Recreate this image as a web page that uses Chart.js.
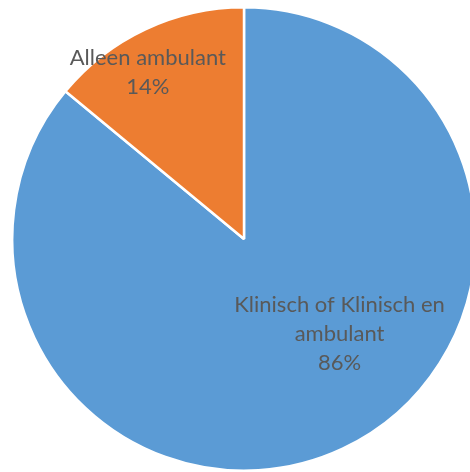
<!DOCTYPE html>
<html>
<head>
<meta charset="utf-8">
<script src="https://cdn.jsdelivr.net/npm/chart.js@4/dist/chart.umd.min.js"></script>
<style>
  html, body { margin: 0; padding: 0; width: 470px; height: 472px; overflow: hidden; background: #fff; }
  #wrap { position: absolute; left: 11px; top: 6px; width: 466px; height: 466px; }
</style>
</head>
<body>
<div id="wrap"><canvas id="c"></canvas></div>
<script>
const categories = ["Klinisch of Klinisch en ambulant", "Alleen ambulant"];
const labelLines = [["Klinisch of Klinisch en", "ambulant"], ["Alleen ambulant"]];
const values = [86, 14];
const colors = ["#5B9BD5", "#ED7D31"];
// label placement: [fraction of radius, angle in degrees (0 = right, clockwise)]
const labelPlace = [[0.58, 44.7], [0.83, -120]];

const labelPlugin = {
  id: 'sliceLabels',
  afterDatasetsDraw(chart) {
    const ctx = chart.ctx;
    const meta = chart.getDatasetMeta(0);
    const total = values.reduce((a, b) => a + b, 0);
    ctx.save();
    ctx.fillStyle = '#595959';
    ctx.font = '22px Lato, "Open Sans", sans-serif';
    ctx.textAlign = 'center';
    ctx.textBaseline = 'middle';
    meta.data.forEach((arc, i) => {
      const r = arc.outerRadius;
      const a = labelPlace[i][1] * Math.PI / 180;
      const cx = arc.x + Math.cos(a) * r * labelPlace[i][0];
      const cy = arc.y + Math.sin(a) * r * labelPlace[i][0];
      const lines = labelLines[i].concat([Math.round(values[i] / total * 100) + '%']);
      const lh = 29;
      const y0 = cy - (lines.length - 1) * lh / 2;
      lines.forEach((t, k) => ctx.fillText(t, cx, y0 + k * lh));
    });
    ctx.restore();
  }
};

new Chart(document.getElementById('c'), {
  type: 'pie',
  data: {
    labels: categories,
    datasets: [{
      data: values,
      backgroundColor: colors,
      borderColor: '#ffffff',
      borderWidth: 2.5
    }]
  },
  options: {
    responsive: true,
    maintainAspectRatio: false,
    animation: false,
    layout: { padding: 0 },
    plugins: { legend: { display: false }, tooltip: { enabled: false } }
  },
  plugins: [labelPlugin]
});
</script>
</body>
</html>
